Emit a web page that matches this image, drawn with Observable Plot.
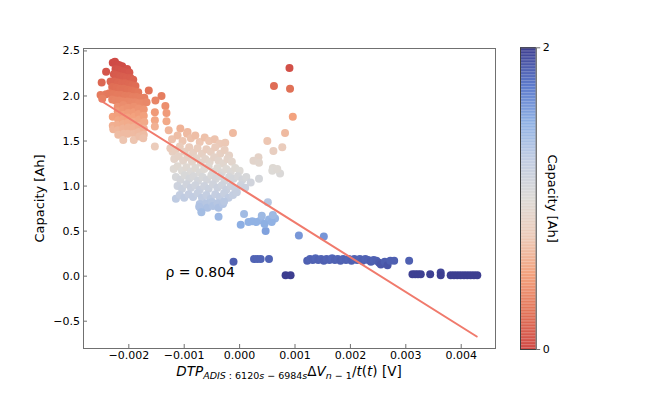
<!DOCTYPE html>
<html><head><meta charset="utf-8">
<script src="https://cdn.jsdelivr.net/npm/d3@7"></script>
<script src="https://cdn.jsdelivr.net/npm/@observablehq/plot@0.6"></script>
<style>
body{margin:0;background:#fff;}
#wrap{position:relative;width:664px;height:399px;font-family:"DejaVu Sans",sans-serif;}
#wrap svg{position:absolute;top:0;background:transparent;}
</style></head><body><div id="wrap"></div>
<script>
// x values in units of 1e-3 V, y = capacity [Ah]
const redCluster = [[-2.29,2.37],[-2.25,2.38],[-2.21,2.35],[-2.17,2.34],[-2.12,2.33],[-2.03,2.30],[-2.41,2.27],[-2.24,2.30],[-2.19,2.29],[-2.14,2.28],[-2.08,2.27],[-1.99,2.26],[-2.27,2.24],[-2.22,2.23],[-2.16,2.22],[-2.10,2.21],[-2.04,2.20],[-1.97,2.20],[-1.92,2.18],[-2.49,2.15],[-2.33,2.16],[-2.26,2.16],[-2.20,2.15],[-2.13,2.14],[-2.07,2.14],[-2.00,2.13],[-1.94,2.12],[-1.88,2.11],[-2.30,2.10],[-2.23,2.09],[-2.16,2.08],[-2.09,2.08],[-2.02,2.07],[-1.95,2.06],[-1.89,2.05],[-1.83,2.04],[-1.64,2.06],[-2.41,2.02],[-2.35,2.03],[-2.28,2.02],[-2.21,2.01],[-2.14,2.01],[-2.07,2.00],[-2.00,2.00],[-1.93,1.99],[-1.86,1.99],[-1.79,1.98],[-1.72,1.98],[-1.41,2.00],[-2.51,2.01],[-2.48,1.97],[-2.30,1.96],[-2.24,1.95],[-2.17,1.95],[-2.10,1.94],[-2.03,1.94],[-1.96,1.93],[-1.89,1.93],[-1.82,1.92],[-1.75,1.92],[-1.68,1.93],[-1.52,1.95],[-1.34,1.89]];
const orangeColumns = [[-2.29,1.77],[-2.29,1.67],[-2.28,1.63],[-2.20,1.88],[-2.20,1.83],[-2.20,1.78],[-2.19,1.73],[-2.20,1.68],[-2.20,1.62],[-2.19,1.57],[-2.10,1.90],[-2.10,1.85],[-2.10,1.79],[-2.11,1.74],[-2.10,1.69],[-2.10,1.64],[-2.09,1.58],[-2.10,1.51],[-2.02,1.87],[-2.01,1.81],[-2.02,1.76],[-2.02,1.70],[-2.01,1.65],[-2.02,1.58],[-1.91,1.88],[-1.91,1.82],[-1.90,1.77],[-1.91,1.71],[-1.91,1.65],[-1.90,1.58],[-1.91,1.51],[-1.82,1.86],[-1.82,1.80],[-1.81,1.74],[-1.82,1.67],[-1.82,1.60],[-1.81,1.55],[-1.73,1.85],[-1.73,1.78],[-1.72,1.71],[-1.73,1.64],[-1.73,1.57],[-1.74,1.53],[-1.53,1.82],[-1.53,1.73],[-1.53,1.66],[-1.53,1.44],[-1.32,1.81],[-1.32,1.72],[-1.28,1.62],[-1.07,1.64],[-0.94,1.60],[-1.21,1.38]];
const midCluster = [[-1.22,1.52],[-1.12,1.56],[-1.03,1.50],[-0.95,1.58],[-0.88,1.53],[-0.80,1.56],[-0.72,1.49],[-0.63,1.54],[-0.55,1.50],[-0.45,1.52],[-0.36,1.47],[-0.26,1.48],[-0.12,1.59],[-1.25,1.42],[-1.16,1.40],[-1.08,1.44],[-0.99,1.38],[-0.91,1.43],[-0.84,1.37],[-0.76,1.42],[-0.68,1.36],[-0.60,1.41],[-0.52,1.38],[-0.44,1.43],[-0.35,1.36],[-0.27,1.40],[-0.19,1.34],[-1.18,1.30],[-1.10,1.33],[-1.02,1.28],[-0.94,1.32],[-0.86,1.27],[-0.78,1.31],[-0.70,1.26],[-0.62,1.30],[-0.54,1.27],[-0.46,1.32],[-0.38,1.28],[-0.30,1.25],[-0.22,1.30],[-0.14,1.27],[-1.19,1.19],[-1.12,1.22],[-1.04,1.17],[-0.96,1.21],[-0.88,1.16],[-0.80,1.20],[-0.72,1.15],[-0.64,1.19],[-0.56,1.22],[-0.48,1.16],[-0.40,1.20],[-0.32,1.15],[-0.24,1.19],[-0.16,1.16],[-0.08,1.20],[0.00,1.17],[-1.15,1.10],[-1.07,1.07],[-0.99,1.12],[-0.91,1.08],[-0.83,1.11],[-0.75,1.06],[-0.67,1.10],[-0.59,1.07],[-0.51,1.12],[-0.43,1.08],[-0.35,1.11],[-0.27,1.06],[-0.19,1.10],[-0.11,1.08],[-0.03,1.11],[0.05,1.07],[0.12,1.10],[0.20,1.04],[0.35,1.08],[-1.12,1.00],[-1.04,0.97],[-0.96,1.02],[-0.88,0.98],[-0.80,1.01],[-0.72,0.96],[-0.64,1.00],[-0.56,0.97],[-0.48,1.02],[-0.40,0.98],[-0.32,1.01],[-0.24,0.96],[-0.16,1.00],[-0.08,0.97],[0.02,1.01],[0.10,0.98],[-1.15,0.86],[-1.08,0.90],[-1.00,0.87],[-0.92,0.91],[-0.84,0.88],[-0.76,0.92],[-0.68,0.87],[-0.60,0.90],[-0.52,0.86],[-0.44,0.91],[-0.36,0.88],[-0.28,0.92],[-0.20,0.87],[-0.12,0.90],[-0.05,0.93],[-0.72,0.80],[-0.70,0.75],[-0.60,0.81],[-0.58,0.76],[-0.50,0.82],[-0.48,0.78],[-0.40,0.81],[-0.38,0.76],[-0.30,0.80],[-0.28,0.83],[-0.73,0.77],[-0.69,0.71],[-0.38,0.66]];
const blueCluster = [[0.08,0.69],[0.02,0.57],[0.23,0.61],[0.38,0.62],[0.53,0.63],[0.64,0.64],[0.47,0.50],[0.51,0.82],[0.30,0.60],[0.45,0.58],[0.58,0.60],[0.16,0.60],[0.40,0.67],[0.60,0.68],[1.07,0.45],[1.52,0.44]];
const rightArc = [[0.90,2.31],[0.62,2.11],[0.91,2.08],[0.96,1.77],[0.82,1.59],[0.50,1.50],[0.77,1.43],[0.61,1.39],[0.34,1.32],[0.25,1.28],[0.60,1.20],[0.73,1.14],[0.35,1.26],[0.59,1.17],[0.68,1.19]];
const bottomRow = [[-0.11,0.16],[0.26,0.19],[0.32,0.19],[0.38,0.19],[0.53,0.19],[0.83,0.01],[0.92,0.01],[1.22,0.17],[1.27,0.19],[1.32,0.18],[1.37,0.20],[1.42,0.18],[1.47,0.19],[1.52,0.17],[1.57,0.19],[1.62,0.18],[1.67,0.20],[1.72,0.18],[1.77,0.19],[1.82,0.17],[1.87,0.19],[1.92,0.18],[1.97,0.19],[2.02,0.17],[2.07,0.19],[2.12,0.18],[2.17,0.19],[2.22,0.17],[2.27,0.19],[2.32,0.18],[2.37,0.16],[2.42,0.18],[2.47,0.17],[2.52,0.15],[2.55,0.13],[2.62,0.16],[2.67,0.12],[2.72,0.17],[2.79,0.17],[3.06,0.17],[3.12,0.02],[3.17,0.02],[3.22,0.02],[3.27,0.02],[3.44,0.02],[3.63,0.04],[3.63,0.01],[3.81,0.01],[3.87,0.01],[3.93,0.01],[3.99,0.01],[4.05,0.01],[4.11,0.01],[4.17,0.01],[4.23,0.01],[4.29,0.01]];
const fitX = [-0.00251, 0.00428];
const fitY = [1.95, -0.67];
const xTicks = [-0.002, -0.001, 0, 0.001, 0.002, 0.003, 0.004];
const yTicks = [-0.5, 0, 0.5, 1, 1.5, 2, 2.5];
const cbarTicks = [0, 2];
const rhoLabel = ["ρ = 0.804"];
const rhoPos = {x: -0.00134, y: 0.04};
const yLabel = "Capacity [Ah]";
const cbarLabel = "Capacity [Ah]";
const colorTop = 2.35; // capacity value drawn in the reddest colour
const cmapStops = ["#cf4a46","#e27458","#f3a37f","#eccab8","#dddad6","#c2cde2","#8fb1e4","#5d7acb","#3c3c8e"];

const interp = d3.piecewise(d3.interpolateRgb, cmapStops);
const allPts = [...redCluster, ...orangeColumns, ...midCluster, ...blueCluster, ...rightArc, ...bottomRow];
const fitLine = fitX.map((x, i) => ({x, y: fitY[i]}));
const spine = "#707070";

const main = Plot.plot({
  width: 664, height: 399,
  marginLeft: 83, marginRight: 169, marginTop: 48, marginBottom: 51,
  style: {fontFamily: "DejaVu Sans", fontSize: "11px", color: "#000", background: "transparent"},
  x: {domain: [-0.002818, 0.004619], label: null},
  y: {domain: [-0.803, 2.527], label: null},
  color: {type: "linear", domain: [0, colorTop], interpolate: interp, clamp: true},
  marks: [
    Plot.dot(allPts, {x: d => d[0] / 1000, y: d => d[1], r: 4, fill: d => colorTop - d[1]}),
    Plot.line(fitLine, {x: "x", y: "y", stroke: "#f07a6c", strokeWidth: 2}),
    Plot.text(rhoLabel, {x: rhoPos.x, y: rhoPos.y, text: d => d, textAnchor: "start", fontSize: 14, fill: "#000"}),
    Plot.frame({stroke: spine}),
    Plot.axisX({ticks: xTicks, tickFormat: d3.format(".3f"), tickSize: -4, tickPadding: 7, stroke: spine, fill: "#000", label: null}),
    Plot.axisY({ticks: yTicks, tickFormat: d3.format(".1f"), tickSize: -4, tickPadding: 7.5, stroke: spine, fill: "#000", label: null}),
    Plot.text([yLabel], {frameAnchor: "left", textAnchor: "middle", dx: -44, rotate: -90, fontSize: 13, fill: "#000", text: d => d})
  ]
});
main.style.left = "0px";
document.getElementById("wrap").appendChild(main);

// x-axis label with mathtext-like sub/italics
const segs = [
  ["DTP", true, false], ["ADIS", true, true], [" : 6120", false, true], ["s", true, true],
  [" − 6984", false, true], ["s", true, true], ["Δ", false, false], ["V", true, false],
  ["n", true, true], [" − 1", false, true], ["/", false, false], ["t", true, false],
  ["(", false, false], ["t", true, false], [") [V]", false, false]
];
const xl = d3.select(main).append("text")
  .attr("x", 289).attr("y", 375.5).attr("text-anchor", "middle")
  .attr("font-family", "DejaVu Sans").attr("font-size", 13.5).attr("fill", "#000");
let inSub = false;
for (const [t, it, sub] of segs) {
  const ts = xl.append("tspan").text(t);
  if (it) ts.attr("font-style", "italic");
  if (sub) ts.attr("font-size", 9.5);
  if (sub !== inSub) ts.attr("dy", sub ? 3 : -3);
  inSub = sub;
}

const cbar = Plot.plot({
  width: 100, height: 399,
  marginLeft: 15, marginRight: 69.3, marginTop: 47.3, marginBottom: 50,
  style: {fontFamily: "DejaVu Sans", fontSize: "11px", color: "#000", background: "transparent"},
  x: {domain: [0, 1], axis: null},
  y: {domain: [0, 2], axis: null},
  color: {type: "linear", domain: [0, 2], interpolate: interp},
  marks: [
    Plot.rect(d3.range(0, 2, 0.01), {x1: 0, x2: 1, y1: d => d, y2: d => d + 0.0105, fill: d => d + 0.005}),
    Plot.frame({stroke: "#404040"}),
    Plot.axisY({anchor: "right", ticks: cbarTicks, tickSize: 3.5, tickPadding: 3, tickFormat: d => String(d), stroke: spine, fill: "#000", label: null}),
    Plot.text([cbarLabel], {frameAnchor: "right", textAnchor: "middle", dx: 16, rotate: 90, fontSize: 13, fill: "#000", text: d => d})
  ]
});
cbar.style.left = "505px";
document.getElementById("wrap").appendChild(cbar);
</script></body></html>
